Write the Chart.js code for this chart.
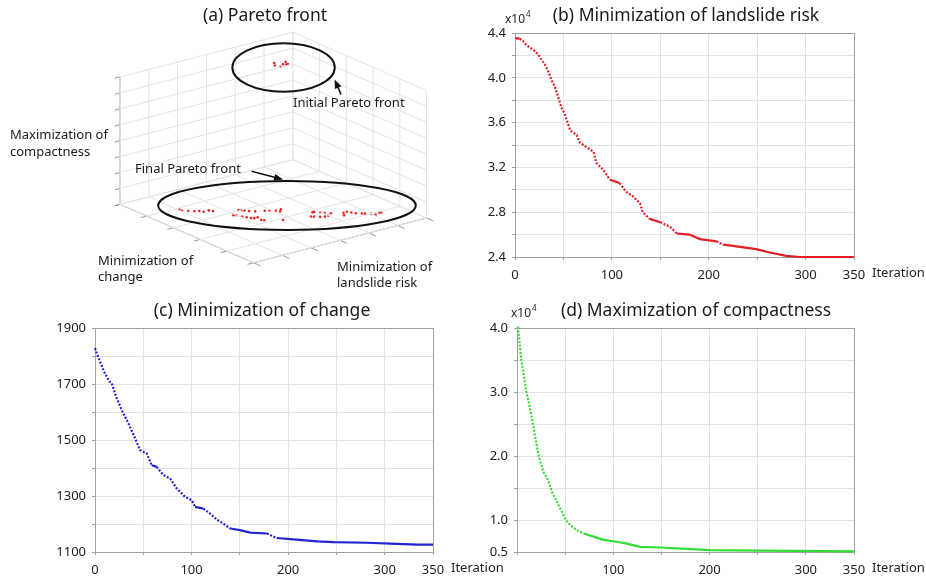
<!DOCTYPE html>
<html>
<head>
<meta charset="utf-8">
<script src="https://cdn.jsdelivr.net/npm/chart.js@4.4.1/dist/chart.umd.min.js"></script>
<style>
  html, body { margin: 0; padding: 0; background: #fff; }
  #wrap { position: relative; width: 926px; height: 578px; overflow: hidden; background: #fff; }
  canvas { position: absolute; }
</style>
</head>
<body>
<div id="wrap">
  <canvas id="chartA" width="460" height="295" style="left:0px;top:0px"></canvas>
  <canvas id="chartB" width="466" height="295" style="left:460px;top:0px"></canvas>
  <canvas id="chartC" width="520" height="283" style="left:0px;top:295px"></canvas>
  <canvas id="chartD" width="466" height="283" style="left:460px;top:295px"></canvas>
</div>
<script>
// (a) Pareto front, objectives scaled 0..1 inside the 3D box
const finalRisk = [0.88,0.88,0.86,0.84,0.82,0.81,0.78,0.77,
  0.67,0.66,0.65,0.64,0.62,0.58,0.56,0.54,0.51,0.53,
  0.73,0.72,0.71,0.70,0.69,0.68,0.66,0.67,0.66,0.59,
  0.42,0.41,0.39,0.38,0.36,0.46,0.45,0.43,0.41,0.39,
  0.31,0.29,0.28,0.27,0.25,0.24,0.22,0.21,0.18,0.17,0.33];
const finalChange = [0.29,0.31,0.33,0.35,0.36,0.38,0.38,0.40,
  0.46,0.47,0.48,0.50,0.52,0.54,0.55,0.57,0.57,0.59,
  0.50,0.51,0.54,0.56,0.58,0.59,0.59,0.63,0.64,0.69,
  0.69,0.69,0.71,0.73,0.75,0.73,0.74,0.76,0.77,0.77,
  0.78,0.78,0.80,0.82,0.84,0.85,0.87,0.89,0.88,0.88,0.81];
const finalCompact = [0.05,0.05,0.05,0.05,0.05,0.05,0.05,0.05,
  0.05,0.05,0.05,0.05,0.05,0.05,0.05,0.05,0.05,0.05,
  0.05,0.05,0.05,0.05,0.05,0.05,0.05,0.05,0.05,0.05,
  0.05,0.05,0.05,0.05,0.05,0.05,0.05,0.05,0.05,0.05,
  0.05,0.05,0.05,0.05,0.05,0.05,0.05,0.05,0.05,0.05,0.05];
const initRisk = [0.27,0.29,0.28,0.25,0.22,0.24,0.23];
const initChange = [0.21,0.24,0.27,0.25,0.23,0.26,0.26];
const initCompact = [0.95,0.95,0.95,0.95,0.95,0.95,0.95];

// (b) landslide risk (x10^4)
const riskIter = [0.4,4.9,8.3,10.8,15.2,20.4,23.8,27.4,30.8,34.2,37.7,41.1,44.6,48.1,51.6,57,63.6,67,74,81,
  84,91,98,108,115,122,129,132,139,150,160,167,180,191,208,215,225,249,263,280,294,350];
const riskVal = [4.355,4.35,4.33,4.30,4.27,4.24,4.21,4.16,4.12,4.06,3.98,3.92,3.83,3.73,3.67,3.53,3.49,3.42,3.38,3.34,
  3.24,3.18,3.09,3.06,2.98,2.94,2.88,2.80,2.74,2.71,2.67,2.61,2.60,2.56,2.54,2.51,2.50,2.47,2.44,2.41,2.40,2.40];

// (c) change
const changeIter = [0,4.5,9.3,14.8,17.3,21.8,27.7,34.5,41.5,46.6,53.6,58.7,63.9,70.8,77.7,84.6,93.3,100.2,103.6,112.3,
  119.2,126,133,140,150,160.7,178,188,205.6,230,247,281.6,305.8,333.4,350];
const changeVal = [1828,1786,1745,1709,1703,1655,1607,1560,1506,1464,1452,1410,1404,1375,1363,1327,1297,1285,1261,1255,
  1237,1216,1201,1184,1178,1169,1166,1150,1145,1138,1135,1133,1130,1126,1126];

// (d) compactness (x10^4)
const compactIter = [1,2.7,4.5,6.8,9.6,12.8,15.5,17.2,19,20.7,22.5,24.2,27.6,30.4,32.8,36.3,39.7,43.2,46.6,50.1,
  55.3,62.2,69.1,79.5,89.8,103.6,114,127.8,148.6,176.2,200.4,252,350];
const compactVal = [4.02,3.76,3.50,3.29,3.01,2.80,2.59,2.46,2.28,2.15,2.01,1.91,1.75,1.68,1.60,1.44,1.34,1.23,1.13,1.01,
  0.92,0.84,0.79,0.74,0.69,0.66,0.63,0.58,0.57,0.55,0.53,0.52,0.51];

const iterLabels = [0, 100, 200, 300, 350];

const FONT = '"Noto Sans", "Open Sans", sans-serif';
const INK = '#1a1a1a';

// ---------- helpers for the three convergence panels ----------
const framePlugin = {
  id: 'frame',
  beforeDatasetsDraw(chart) {
    const a = chart.chartArea, ctx = chart.ctx;
    ctx.save();
    ctx.strokeStyle = '#a0a0a0';
    ctx.lineWidth = 1;
    ctx.strokeRect(Math.round(a.left) + 0.5, Math.round(a.top) + 0.5,
      Math.round(a.right - a.left), Math.round(a.bottom - a.top));
    ctx.restore();
  }
};

const textPlugin = {
  id: 'panelText',
  afterDraw(chart, args, o) {
    const ctx = chart.ctx, a = chart.chartArea;
    ctx.save();
    ctx.fillStyle = INK;
    ctx.textBaseline = 'middle';
    // title
    ctx.font = '17.5px ' + FONT;
    ctx.textAlign = 'center';
    ctx.fillText(o.title, o.titleX, 16);
    // Iteration label after last tick
    ctx.font = '13px ' + FONT;
    ctx.textAlign = 'left';
    ctx.fillStyle = '#222';
    ctx.fillText('Iteration', a.right + 18, a.bottom + 16);
    // exponent
    if (o.expo) {
      ctx.font = '12px ' + FONT;
      ctx.fillText('x10', o.expo[0], o.expo[1]);
      const w = ctx.measureText('x10').width;
      ctx.font = '8px ' + FONT;
      ctx.fillText('4', o.expo[0] + w + 1, o.expo[1] - 5);
    }
    ctx.restore();
  }
};

function steep(c) {
  return Math.abs(c.p1.y - c.p0.y) > 0.45 * Math.abs(c.p1.x - c.p0.x);
}

function convergence(id, s) {
  return new Chart(document.getElementById(id), {
    type: 'line',
    data: {
      datasets: [{
        data: s.xs.map((x, i) => ({ x: x, y: s.ys[i] })),
        borderColor: s.color,
        backgroundColor: s.color,
        borderWidth: 2.2,
        pointRadius: 0,
        tension: 0,
        clip: 6,
        segment: { borderDash: c => steep(c) ? [2, 1.6] : undefined }
      }]
    },
    options: {
      responsive: false,
      animation: false,
      devicePixelRatio: 1,
      events: [],
      layout: { padding: { left: 0, top: 33, right: s.padRight, bottom: 0 } },
      plugins: {
        legend: { display: false },
        tooltip: { enabled: false },
        panelText: { title: s.title, titleX: s.titleX, expo: s.expo }
      },
      scales: {
        x: {
          type: 'linear', min: 0, max: 350,
          afterBuildTicks: ax => { ax.ticks = [0,50,100,150,200,250,300,350].map(v => ({ value: v })); },
          afterFit: ax => { ax.height = s.xh; },
          grid: { color: '#e2e2e2', tickLength: 3, tickColor: '#a0a0a0' },
          border: { display: false },
          ticks: {
            autoSkip: false, maxRotation: 0, padding: 7, color: '#222',
            font: { family: FONT, size: 13 },
            callback: v => (iterLabels.includes(v) && !(s.noZero && v === 0)) ? String(v) : ''
          }
        },
        y: {
          min: s.ymin, max: s.ymax,
          afterBuildTicks: ax => { ax.ticks = s.yticks.map(v => ({ value: v })); },
          afterFit: ax => { ax.width = s.yw; },
          grid: { color: '#e2e2e2', tickLength: 3, tickColor: '#a0a0a0' },
          border: { display: false },
          ticks: {
            padding: 6, color: '#222',
            font: { family: FONT, size: 13 },
            callback: v => s.ylabel(v)
          }
        }
      }
    },
    plugins: [framePlugin, textPlugin]
  });
}

convergence('chartB', {
  xs: riskIter, ys: riskVal, color: '#e41e24',
  ymin: 2.4, ymax: 4.4,
  yticks: [2.4,2.6,2.8,3.0,3.2,3.4,3.6,3.8,4.0,4.2,4.4],
  ylabel: v => Math.round(v * 10) % 4 === 0 ? v.toFixed(1) : '',
  yw: 55, padRight: 72, xh: 38,
  title: '(b) Minimization of landslide risk', titleX: 226, expo: [45, 20]
});

convergence('chartC', {
  xs: changeIter, ys: changeVal, color: '#2424d4',
  ymin: 1100, ymax: 1900,
  yticks: [1100,1200,1300,1400,1500,1600,1700,1800,1900],
  ylabel: v => (v - 1100) % 200 === 0 ? String(v) : '',
  yw: 95, padRight: 87, xh: 26,
  title: '(c) Minimization of change', titleX: 262
});

convergence('chartD', {
  xs: compactIter, ys: compactVal, color: '#33dd33',
  ymin: 0.5, ymax: 4.0,
  yticks: [0.5,1.0,1.5,2.0,2.5,3.0,3.5,4.0],
  ylabel: v => (v === 0.5 || Number.isInteger(v)) ? v.toFixed(1) : '',
  yw: 57, padRight: 72, xh: 26, noZero: true,
  title: '(d) Maximization of compactness', titleX: 236, expo: [51, 19]
});

// ---------- (a) 3D view ----------
// oblique view of the unit box: risk runs toward the left corner, change toward the right corner
const view = { ox: 294, oy: 160, rx: -176, ry: 46, cx: 136, cy: 60, kh: 131 };
function project(r, c, k) {
  return { x: view.ox + r * view.rx + c * view.cx, y: view.oy + r * view.ry + c * view.cy - k * view.kh };
}

const boxSets = [];
function edge(a, b, color) {
  boxSets.push({
    data: [project(...a), project(...b)],
    showLine: true, pointRadius: 0, borderWidth: 1, borderColor: color
  });
}
const light = '#e3e3e3', dark = '#9a9a9a';
for (let i = 0; i <= 6; i++) {
  const r = i / 6;
  edge([r, 0, 0], [r, 0, 1], light);
  edge([r, 0, 0], [r, 1, 0], light);
}
for (let i = 0; i <= 5; i++) {
  const c = i / 5;
  edge([0, c, 0], [0, c, 1], light);
  edge([0, c, 0], [1, c, 0], light);
}
for (let j = 0; j <= 8; j++) {
  const k = j / 8;
  edge([0, 0, k], [1, 0, k], light);
  edge([0, 0, k], [0, 1, k], light);
  edge([1, 0, k], [1.03, 0, k], dark);
}
for (let i = 0; i <= 5; i++) edge([1, i / 5, 0], [1.035, i / 5, 0], dark);
for (let i = 0; i <= 6; i++) edge([i / 6, 1, 0], [i / 6, 1.05, 0], dark);
edge([1, 0, 0], [1, 0, 1], dark);
edge([1, 0, 0], [1, 1, 0], dark);
edge([1, 1, 0], [0, 1, 0], dark);

const paretoPts = finalRisk.map((r, i) => project(r, finalChange[i], finalCompact[i]))
  .concat(initRisk.map((r, i) => project(r, initChange[i], initCompact[i])));

const overlayPlugin = {
  id: 'overlay',
  afterDraw(chart) {
    const ctx = chart.ctx, sx = chart.scales.x, sy = chart.scales.y;
    const X = v => sx.getPixelForValue(v), Y = v => sy.getPixelForValue(v);
    ctx.save();
    ctx.strokeStyle = '#111';
    ctx.fillStyle = '#111';
    ctx.lineWidth = 2;
    [[284.5, 65.2, 51.2, 24.2], [288, 207, 128.8, 24.5]].forEach(e => {
      ctx.beginPath();
      ctx.ellipse(X(e[0]), Y(e[1]), e[2], e[3], 0, 0, Math.PI * 2);
      ctx.stroke();
    });
    function arrow(x0, y0, x1, y1) {
      const a = Math.atan2(Y(y1) - Y(y0), X(x1) - X(x0));
      ctx.lineWidth = 1.6;
      ctx.beginPath();
      ctx.moveTo(X(x0), Y(y0));
      ctx.lineTo(X(x1) - 5 * Math.cos(a), Y(y1) - 5 * Math.sin(a));
      ctx.stroke();
      ctx.beginPath();
      ctx.moveTo(X(x1), Y(y1));
      ctx.lineTo(X(x1) - 9 * Math.cos(a) + 3.5 * Math.sin(a), Y(y1) - 9 * Math.sin(a) - 3.5 * Math.cos(a));
      ctx.lineTo(X(x1) - 9 * Math.cos(a) - 3.5 * Math.sin(a), Y(y1) - 9 * Math.sin(a) + 3.5 * Math.cos(a));
      ctx.closePath();
      ctx.fill();
    }
    arrow(343, 93, 336.5, 77.5);
    arrow(252, 172, 284, 180.5);

    ctx.fillStyle = INK;
    ctx.textBaseline = 'middle';
    ctx.textAlign = 'center';
    ctx.font = '17.5px ' + FONT;
    ctx.fillText('(a) Pareto front', 265, 16);
    ctx.textAlign = 'left';
    ctx.font = '13px ' + FONT;
    [['Initial Pareto front', 293, 103], ['Final Pareto front', 135, 169],
     ['Maximization of', 10, 135], ['compactness', 10, 152],
     ['Minimization of', 98, 261], ['change', 98, 277],
     ['Minimization of', 337, 267], ['landslide risk', 337, 283]].forEach(t => ctx.fillText(t[0], t[1], t[2]));
    ctx.restore();
  }
};

new Chart(document.getElementById('chartA'), {
  type: 'scatter',
  data: {
    datasets: boxSets.concat([{
      data: paretoPts, pointRadius: 1.3, pointBorderWidth: 0,
      pointBackgroundColor: '#e8262a', showLine: false
    }])
  },
  options: {
    responsive: false,
    animation: false,
    devicePixelRatio: 1,
    events: [],
    layout: { padding: 0 },
    plugins: { legend: { display: false }, tooltip: { enabled: false } },
    scales: {
      x: { type: 'linear', min: 0, max: 460, display: false },
      y: { type: 'linear', min: 0, max: 295, reverse: true, display: false }
    }
  },
  plugins: [overlayPlugin]
});
</script>
</body>
</html>
